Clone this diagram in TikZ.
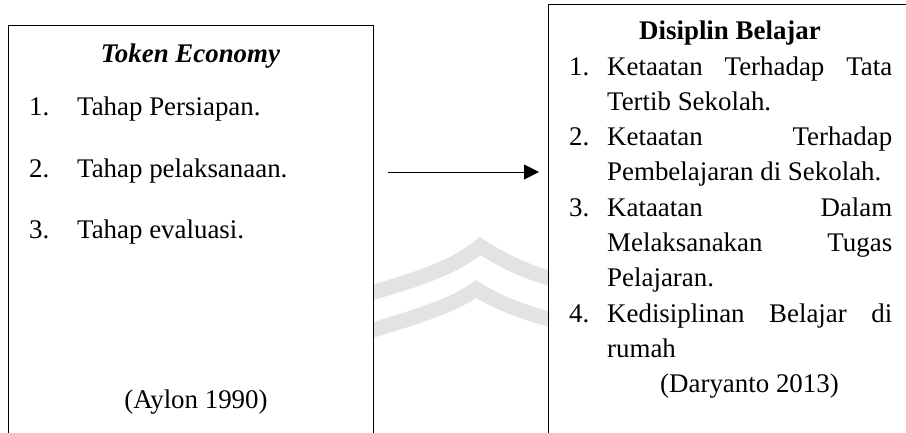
\documentclass[tikz,border=0pt]{standalone}
\usepackage{fontspec}
\setmainfont{Liberation Serif}
\usetikzlibrary{arrows.meta,calc}
\begin{document}
\begin{tikzpicture}[x=1pt,y=-1pt,
  box/.style={draw, line width=1.2pt, fill=white, inner sep=0pt, anchor=north west},
  txt/.style={inner sep=0pt, anchor=base west, font=\fontsize{26.9}{30}\selectfont},
  ctr/.style={inner sep=0pt, anchor=base, font=\fontsize{26.9}{30}\selectfont},
  wm/.style={line width=15pt, draw=black!11},
  conn/.style={line width=1pt, -{Triangle[length=15pt,width=15pt]}}]
\useasboundingbox (0,0) rectangle (906,432);
\clip (0,0) rectangle (906,432);
% faint watermark
\draw[wm] (360,296) .. controls (410,282) and (455,268) .. (480,246) .. controls (505,262) and (525,272) .. (560,281);
\draw[wm] (360,334) .. controls (405,320) and (450,308) .. (476,289) .. controls (500,304) and (525,313) .. (560,322);
% boxes
\node[box, minimum width=365pt, minimum height=440pt] (lb) at (8,25) {};
\node[box, minimum width=380pt, minimum height=460pt] (rb) at (548,4) {};
% left box text
\node[ctr] (lt) at (190.5,62) {\bfseries\itshape Token Economy};
\node[txt] (l1n) at (29,115) {1.};
\node[txt] (l1) at (77,115) {Tahap Persiapan.};
\node[txt] (l2n) at (29,177) {2.};
\node[txt] (l2) at (77,177) {Tahap pelaksanaan.};
\node[txt] (l3n) at (29,238) {3.};
\node[txt] (l3) at (77,238) {Tahap evaluasi.};
\node[ctr] (lc) at (196,408) {(Aylon 1990)};
% right box text
\node[ctr] (rt) at (730,39) {\bfseries Disiplin Belajar};
\node[txt] (r1n) at (569,75) {1.};
\node[txt] (r1a) at (607,75) {\makebox[285pt][s]{Ketaatan Terhadap Tata}};
\node[txt] (r1b) at (607,110.3) {Tertib Sekolah.};
\node[txt] (r2n) at (569,145.6) {2.};
\node[txt] (r2a) at (607,145.6) {\makebox[285pt][s]{Ketaatan Terhadap}};
\node[txt] (r2b) at (607,180.9) {Pembelajaran di Sekolah.};
\node[txt] (r3n) at (569,216.2) {3.};
\node[txt] (r3a) at (607,216.2) {\makebox[285pt][s]{Kataatan Dalam}};
\node[txt] (r3b) at (607,251.5) {\makebox[285pt][s]{Melaksanakan Tugas}};
\node[txt] (r3c) at (607,286.8) {Pelajaran.};
\node[txt] (r4n) at (569,322.1) {4.};
\node[txt] (r4a) at (607,322.1) {\makebox[285pt][s]{Kedisiplinan Belajar di}};
\node[txt] (r4b) at (607,357.4) {rumah};
\node[ctr] (rc) at (749.5,392.7) {(Daryanto 2013)};
% arrow
\coordinate (as) at (388,172);
\coordinate (ae) at (539,172);
\draw[conn] (as) -- (ae);
\end{tikzpicture}
\end{document}
